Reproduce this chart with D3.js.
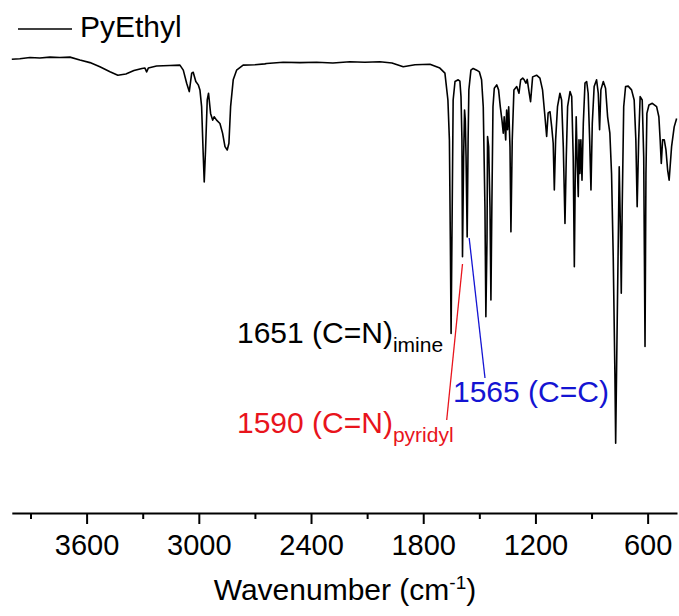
<!DOCTYPE html>
<html>
<head>
<meta charset="utf-8">
<title>PyEthyl IR</title>
<style>
  body { margin: 0; background: #fff; }
  svg { display: block; font-family: "Liberation Sans", Arial, sans-serif; }
</style>
</head>
<body>
<div id="chart"></div>
<script src="https://d3js.org/d3.v7.min.js"></script>
<script>
// wavenumber (cm-1) and transmittance (%)
const wavenumber = [
  4000, 3957, 3903, 3850, 3796, 3743, 3689, 3636, 3582, 3529, 3475, 3433, 3390, 3347, 3304, 3288, 3279, 3270,
  3226, 3155, 3101, 3083, 3065, 3051, 3038, 3030, 3016, 3003, 2994, 2985, 2976, 2971, 2964, 2955, 2948, 2937,
  2926, 2918, 2905, 2887, 2873, 2860, 2848, 2839, 2830, 2816, 2798, 2763, 2700, 2647, 2637, 2549, 2459, 2370,
  2283, 2192, 2112, 2032, 1967, 1907, 1844, 1764, 1711, 1684, 1668, 1660, 1655, 1651, 1645, 1640, 1630, 1613,
  1604, 1598, 1593, 1590, 1584, 1579, 1575, 1571, 1565, 1560, 1556, 1545, 1533, 1514, 1500, 1488, 1479, 1470,
  1465, 1459, 1456, 1450, 1443, 1438, 1433, 1427, 1420, 1407, 1397, 1388, 1379, 1372, 1367, 1359, 1354, 1349,
  1343, 1336, 1331, 1324, 1315, 1300, 1288, 1279, 1268, 1260, 1251, 1244, 1233, 1226, 1215, 1194, 1176, 1162,
  1149, 1140, 1132, 1122, 1113, 1105, 1099, 1092, 1082, 1069, 1060, 1051, 1042, 1035, 1028, 1015, 1006, 998,
  992, 987, 982, 976, 971, 967, 962, 957, 951, 944, 935, 926, 918, 910, 903, 896, 886, 873, 864, 857, 850, 837,
  825, 814, 802, 793, 784, 775, 771, 764, 757, 752, 746, 741, 736, 728, 718, 704, 686, 672, 663, 656, 648, 640,
  629, 621, 614, 609, 604, 593, 575, 552, 540, 533, 527, 520, 511, 502, 493, 485, 472, 458, 445
];
const transmittance = [
  97.8, 97.9, 98.2, 98.1, 98.3, 98.2, 98.3, 97.6, 97.0, 96.0, 94.8, 94.0, 94.3, 95.1, 95.6, 95.7, 94.8, 95.7,
  96.2, 96.3, 96.4, 95.2, 92.1, 90.1, 94.5, 94.7, 92.5, 91.7, 90.5, 86.5, 74.6, 68.6, 76.2, 88.1, 89.7, 84.9,
  83.3, 84.1, 83.3, 82.5, 80.2, 77.0, 76.2, 77.8, 86.5, 92.9, 95.2, 96.4, 96.5, 96.7, 96.8, 97.1, 97.0, 97.1,
  96.9, 97.2, 97.1, 97.2, 96.9, 96.0, 96.5, 96.6, 95.7, 94.5, 88.1, 78.6, 54.8, 32.5, 62.7, 88.1, 92.5, 92.9,
  92.6, 88.9, 78.6, 50.8, 74.6, 85.7, 83.3, 74.6, 55.5, 78.6, 90.5, 95.2, 95.6, 95.2, 94.8, 92.9, 86.5, 62.7,
  36.5, 54.8, 79.4, 77.0, 62.7, 40.5, 62.7, 86.5, 90.9, 91.7, 90.5, 86.5, 83.3, 80.2, 84.1, 78.6, 85.7, 81.0,
  86.5, 77.0, 56.7, 78.6, 90.5, 91.3, 89.7, 92.9, 93.3, 92.9, 92.1, 93.0, 89.7, 87.7, 93.6, 94.0, 93.3, 90.5,
  84.1, 79.4, 85.0, 85.3, 81.7, 77.8, 66.7, 78.6, 86.5, 89.7, 88.1, 77.0, 58.7, 74.6, 86.5, 90.1, 88.9, 74.6,
  48.4, 70.6, 84.1, 72.2, 65.1, 78.6, 70.6, 78.6, 69.0, 82.5, 92.1, 92.5, 89.7, 78.6, 66.7, 82.5, 91.3, 92.9, 89.7, 81.0, 90.5, 92.5,
  90.9, 84.1, 80.2, 70.6, 50.8, 23.0, 6.4, 31.0, 54.8, 72.2, 58.7, 42.1, 62.7, 86.5, 91.3, 91.4, 90.5, 88.1, 78.6, 62.7, 78.6, 88.9,
  88.1, 74.6, 29.4, 70.6, 84.9, 86.9, 87.3, 86.5, 84.1, 78.6, 73.0, 78.6, 78.6, 76.2, 71.4, 69.0, 77.0, 81.7, 83.7
];

const majorTicks = [3600, 3000, 2400, 1800, 1200, 600];
const minorTicks = [3900, 3300, 2700, 2100, 1500, 900];
const seriesName = "PyEthyl";

const width = 679, height = 616;
const axisY = 513;

const svg = d3.select("#chart").append("svg")
    .attr("width", width)
    .attr("height", height);

const x = d3.scaleLinear().domain([4000, 443]).range([11.8, 677]);
const y = d3.scaleLinear().domain([0, 100]).range([470, 50]);

const data = wavenumber.map((w, i) => ({ w: w, t: transmittance[i] }));

// spectrum
svg.append("path")
    .datum(data)
    .attr("fill", "none")
    .attr("stroke", "#000")
    .attr("stroke-width", 1.6)
    .attr("stroke-linejoin", "round")
    .attr("d", d3.line().x(d => x(d.w)).y(d => y(d.t)));

// x axis, minor ticks first
svg.append("g")
    .attr("transform", `translate(0,${axisY})`)
    .call(d3.axisBottom(x).tickValues(minorTicks).tickSize(6).tickSizeOuter(0).tickFormat(""))
    .call(g => g.selectAll("line").attr("stroke-width", 2))
    .call(g => g.select(".domain").attr("stroke-width", 2));

const xAxis = svg.append("g")
    .attr("transform", `translate(0,${axisY})`)
    .call(d3.axisBottom(x).tickValues(majorTicks).tickSize(11).tickSizeOuter(0).tickFormat(d3.format("d")));
xAxis.select(".domain").remove();
xAxis.selectAll("line").attr("stroke-width", 2);
xAxis.selectAll("text")
    .attr("y", 42).attr("dy", 0)
    .attr("font-size", 29)
    .attr("font-family", "'Liberation Sans', Arial, sans-serif")
    .attr("fill", "#000");

// axis title
const title = svg.append("text")
    .attr("x", 345).attr("y", 600)
    .attr("text-anchor", "middle")
    .attr("font-size", 30);
title.append("tspan").text("Wavenumber (cm");
title.append("tspan").attr("font-size", 19).attr("dy", -11).text("-1");
title.append("tspan").attr("dy", 11).text(")");

// legend
svg.append("line")
    .attr("x1", 18).attr("x2", 72).attr("y1", 29).attr("y2", 29)
    .attr("stroke", "#000").attr("stroke-width", 1.4);
svg.append("text")
    .attr("x", 80).attr("y", 37)
    .attr("font-size", 30)
    .text(seriesName);

// peak annotations
const labels = [
  { main: "1651 (C=N)", sub: "imine", color: "#000", tx: 237, ty: 343 },
  { main: "1590 (C=N)", sub: "pyridyl", color: "#e8141c", tx: 237, ty: 433 },
  { main: "1565 (C=C)", sub: "", color: "#1414d2", tx: 453, ty: 402 }
];
labels.forEach(l => {
  const t = svg.append("text")
      .attr("x", l.tx).attr("y", l.ty)
      .attr("font-size", 30)
      .attr("fill", l.color);
  t.append("tspan").text(l.main);
  if (l.sub) t.append("tspan").attr("font-size", 21).attr("dy", 9).text(l.sub);
});

svg.append("line")
    .attr("x1", 446.7).attr("y1", 420)
    .attr("x2", x(1590)).attr("y2", 264)
    .attr("stroke", "#e8141c").attr("stroke-width", 1.3);
svg.append("line")
    .attr("x1", 485).attr("y1", 378)
    .attr("x2", x(1565) + 2).attr("y2", 238)
    .attr("stroke", "#1414d2").attr("stroke-width", 1.3);
</script>
</body>
</html>
